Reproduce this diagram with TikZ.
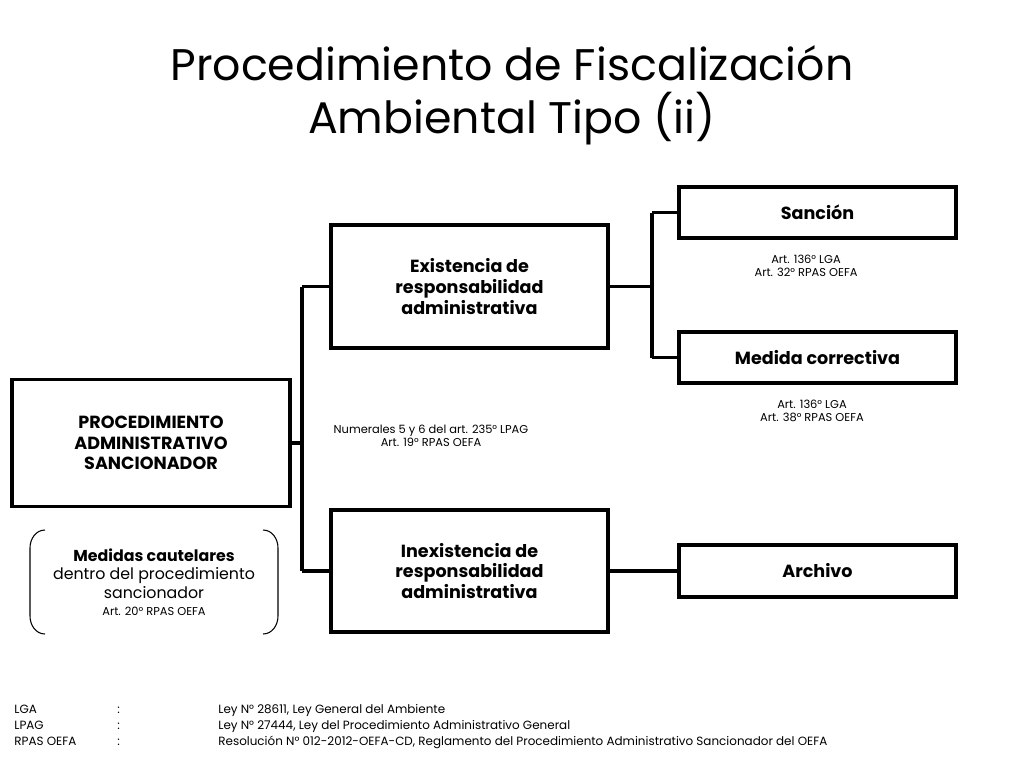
\documentclass[tikz,border=0pt]{standalone}
\usepackage{fontspec}
\setmainfont{Poppins}
\begin{document}
\begin{tikzpicture}[x=0.02cm, y=-0.02cm,
    caja/.style={draw, line width=1.8pt, align=center, font=\bfseries\fontsize{10}{11.8}\selectfont, inner sep=0pt},
    nota/.style={align=center, font=\fontsize{6.5}{7.5}\selectfont},
    linea/.style={line width=1.8pt}]
\useasboundingbox (0,0) rectangle (1024,768);
% title
\node[font=\fontsize{25.2}{30}\selectfont, align=center] (titulo) at (512,95) {Procedimiento de Fiscalización\\Ambiental Tipo (ii)};
% boxes
\node[caja, minimum width=278*0.02cm, minimum height=127*0.02cm] (pas) at (151,443) {PROCEDIMIENTO\\ADMINISTRATIVO\\SANCIONADOR};
\node[caja, minimum width=277*0.02cm, minimum height=123*0.02cm] (exist) at (469.5,286.5) {Existencia de\\responsabilidad\\administrativa};
\node[caja, minimum width=277*0.02cm, minimum height=122*0.02cm] (inexist) at (469.5,571) {Inexistencia de\\responsabilidad\\administrativa};
\node[caja, minimum width=277*0.02cm, minimum height=51*0.02cm] (sancion) at (817.5,212.5) {Sanción};
\node[caja, minimum width=277*0.02cm, minimum height=51*0.02cm] (medida) at (817.5,357.5) {Medida correctiva};
\node[caja, minimum width=277*0.02cm, minimum height=52*0.02cm] (archivo) at (817.5,571) {Archivo};
% branch points
\coordinate (b1) at (302,443);
\coordinate (b2) at (652,286.5);
\draw[linea] (pas.east) -- (b1);
\draw[linea] (b1 |- exist.west) -- (exist.west);
\draw[linea] (b1 |- inexist.west) -- (inexist.west);
\draw[linea] (b1 |- exist.west) -- (b1 |- inexist.west);
\draw[linea] (exist.east) -- (b2);
\draw[linea] (b2 |- sancion.west) -- (b2 |- medida.west);
\draw[linea] (b2 |- sancion.west) -- (sancion.west);
\draw[linea] (b2 |- medida.west) -- (medida.west);
\draw[linea] (inexist.east) -- (archivo.west);
% notes
\node[nota] (n1) at (806,266) {Art. 136° LGA\\Art. 32° RPAS OEFA};
\node[nota] (n2) at (812,411) {Art. 136° LGA\\Art. 38° RPAS OEFA};
\node[nota] (n3) at (431,436) {Numerales 5 y 6 del art. 235° LPAG\\Art. 19° RPAS OEFA};
% medidas cautelares
\node[align=center, font=\fontsize{9}{10.5}\selectfont] (cautelar) at (154,582) {\textbf{Medidas cautelares}\\dentro del procedimiento\\sancionador\\[-1pt]{\fontsize{6.5}{7.5}\selectfont Art. 20° RPAS OEFA}};
\draw[line width=0.6pt] (45,530) to[out=180,in=90] (30,548) -- (30,616) to[out=-90,in=180] (45,634);
\draw[line width=0.6pt] (263,530) to[out=0,in=90] (278,548) -- (278,616) to[out=-90,in=0] (263,634);
% footer
\begin{scope}[every node/.style={anchor=base west, font=\fontsize{6.8}{8}\selectfont, inner sep=0pt}]
\foreach \y/\a/\b in {713/LGA/{Ley N° 28611, Ley General del Ambiente},
                      729/LPAG/{Ley N° 27444, Ley del Procedimiento Administrativo General},
                      745/RPAS OEFA/{Resolución N° 012-2012-OEFA-CD, Reglamento del Procedimiento Administrativo Sancionador del OEFA}}{
  \node at (14,\y) {\a};
  \node at (117,\y) {:};
  \node at (218,\y) {\b};
}
\end{scope}
\end{tikzpicture}
\end{document}
